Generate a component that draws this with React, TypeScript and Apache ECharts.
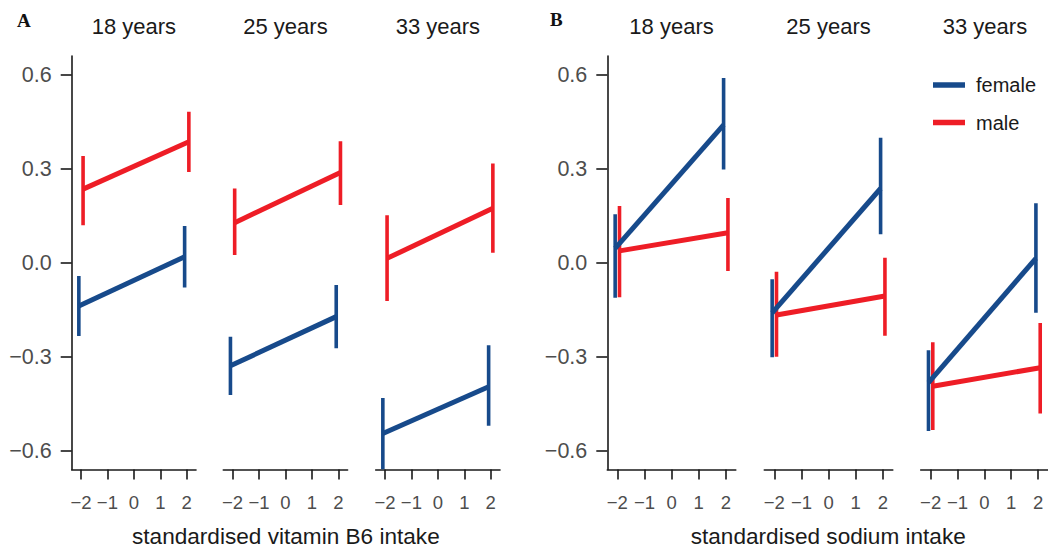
import React, { useEffect, useRef } from "react";
import * as echarts from "echarts";

const ages = ["18 years", "25 years", "33 years"];
const xLevels = [-2, 2];
const xTicks = [-2, -1, 0, 1, 2];
const yTicks = [-0.6, -0.3, 0, 0.3, 0.6];
const sexes = ["female", "male"];
const panelLetters = ["A", "B"];
const xTitles = ["standardised vitamin B6 intake", "standardised sodium intake"];

// Panel A: vitamin B6 — [facet][x level]
const b6FemaleMean = [[-0.138, 0.019], [-0.329, -0.172], [-0.545, -0.396]];
const b6FemaleLow = [[-0.234, -0.079], [-0.422, -0.273], [-0.66, -0.52]];
const b6FemaleHigh = [[-0.042, 0.117], [-0.236, -0.071], [-0.432, -0.263]];
const b6MaleMean = [[0.235, 0.386], [0.128, 0.288], [0.014, 0.174]];
const b6MaleLow = [[0.12, 0.29], [0.025, 0.184], [-0.122, 0.032]];
const b6MaleHigh = [[0.341, 0.482], [0.237, 0.388], [0.152, 0.317]];

// Panel B: sodium
const naFemaleMean = [[0.046, 0.44], [-0.16, 0.237], [-0.383, 0.014]];
const naFemaleLow = [[-0.112, 0.298], [-0.302, 0.091], [-0.537, -0.16]];
const naFemaleHigh = [[0.155, 0.59], [-0.053, 0.399], [-0.279, 0.19]];
const naMaleMean = [[0.038, 0.096], [-0.167, -0.106], [-0.394, -0.335]];
const naMaleLow = [[-0.11, -0.026], [-0.3, -0.233], [-0.534, -0.481]];
const naMaleHigh = [[0.181, 0.207], [-0.029, 0.016], [-0.254, -0.192]];

const panels = [
  { mean: [b6FemaleMean, b6MaleMean], low: [b6FemaleLow, b6MaleLow], high: [b6FemaleHigh, b6MaleHigh] },
  { mean: [naFemaleMean, naMaleMean], low: [naFemaleLow, naMaleLow], high: [naFemaleHigh, naMaleHigh] },
];

const COLORS = ["#174a8b", "#ee1d26"];
const DODGE = [-0.08, 0.08];
const FONT = "Liberation Sans, Arial, Helvetica, sans-serif";
const AXIS_COLOR = "#1a1a1a";
const LABEL_COLOR = "#4d4d4d";

const GRID_TOP = 56;
const GRID_H = 413.5;
const Y_MIN = -0.66;
const Y_MAX = 0.66;
const panelLayout = [
  { lefts: [71.7, 223.3, 375.7], width: 124.3, xr: 2.35 },
  { lefts: [607.3, 764.3, 920.7], width: 128.5, xr: 2.37 },
];

const fmt = (v: number, d: number) => (d > 0 ? v.toFixed(d) : String(v)).replace("-", "\u2212");

export default function App() {
  const ref = useRef<HTMLDivElement>(null);
  useEffect(() => {
    if (!ref.current) return;
    const chart = echarts.init(ref.current, null, { renderer: "svg" });
    const grid: any[] = [];
    const xAxis: any[] = [];
    const yAxis: any[] = [];
    const series: any[] = [];
    const graphic: any[] = [];

    panelLayout.forEach((pl, p) => {
      pl.lefts.forEach((left, f) => {
        const gi = p * 3 + f;
        grid.push({ left, top: GRID_TOP, width: pl.width, height: GRID_H, containLabel: false });
        xAxis.push({
          type: "value",
          gridIndex: gi,
          min: -pl.xr,
          max: pl.xr,
          splitLine: { show: false },
          axisLine: { show: true, onZero: false, lineStyle: { color: AXIS_COLOR, width: 1.6 } },
          axisTick: { show: true, length: 10, customValues: xTicks, lineStyle: { color: AXIS_COLOR, width: 1.6 } },
          axisLabel: {
            show: true,
            customValues: xTicks,
            margin: 23,
            color: LABEL_COLOR,
            fontSize: 18.5,
            fontFamily: FONT,
            formatter: (v: number) => fmt(v, 0),
          },
        });
        const showY = f === 0;
        yAxis.push({
          type: "value",
          gridIndex: gi,
          min: Y_MIN,
          max: Y_MAX,
          show: showY,
          splitLine: { show: false },
          axisLine: { show: showY, onZero: false, lineStyle: { color: AXIS_COLOR, width: 1.6 } },
          axisTick: { show: showY, length: 11, customValues: yTicks, lineStyle: { color: AXIS_COLOR, width: 1.6 } },
          axisLabel: {
            show: showY,
            customValues: yTicks,
            margin: 20,
            color: LABEL_COLOR,
            fontSize: 21.5,
            fontFamily: FONT,
            formatter: (v: number) => fmt(v, 1),
          },
        });

        sexes.forEach((sex, s) => {
          const d = panels[p];
          const barData = xLevels.map((x, k) => [x + DODGE[s], d.low[s][f][k], d.high[s][f][k]]);
          series.push({
            type: "custom",
            name: sex,
            xAxisIndex: gi,
            yAxisIndex: gi,
            clip: true,
            color: COLORS[s],
            data: barData,
            renderItem: (_params: any, api: any) => {
              const x = api.value(0);
              const p1 = api.coord([x, api.value(1)]);
              const p2 = api.coord([x, api.value(2)]);
              return {
                type: "line",
                shape: { x1: p1[0], y1: p1[1], x2: p2[0], y2: p2[1] },
                style: { stroke: COLORS[s], lineWidth: 3.6, lineCap: "butt" },
              };
            },
          });
          series.push({
            type: "line",
            name: sex,
            xAxisIndex: gi,
            yAxisIndex: gi,
            color: COLORS[s],
            showSymbol: false,
            symbol: "none",
            clip: true,
            lineStyle: { color: COLORS[s], width: 5, cap: "butt" },
            data: xLevels.map((x, k) => [x + DODGE[s], d.mean[s][f][k]]),
          });
        });

        graphic.push({
          type: "text",
          x: left + pl.width / 2,
          y: 26.5,
          style: {
            text: ages[f],
            fill: "#1a1a1a",
            font: `22px ${FONT}`,
            textAlign: "center",
            textVerticalAlign: "middle",
          },
        });
      });

      const first = pl.lefts[0];
      const last = pl.lefts[2] + pl.width;
      graphic.push({
        type: "text",
        x: (first + last) / 2,
        y: 536.5,
        style: {
          text: xTitles[p],
          fill: "#1a1a1a",
          font: `22.6px ${FONT}`,
          textAlign: "center",
          textVerticalAlign: "middle",
        },
      });
    });

    graphic.push({
      type: "text",
      x: 17,
      y: 20.5,
      style: { text: panelLetters[0], fill: "#111", font: "bold 19px 'Liberation Serif', 'Times New Roman', serif", textVerticalAlign: "middle" },
    });
    graphic.push({
      type: "text",
      x: 550,
      y: 19.5,
      style: { text: panelLetters[1], fill: "#111", font: "bold 19px 'Liberation Serif', 'Times New Roman', serif", textVerticalAlign: "middle" },
    });

    chart.setOption({
      animation: false,
      backgroundColor: "#ffffff",
      grid,
      xAxis,
      yAxis,
      series,
      graphic,
      legend: {
        data: sexes,
        orient: "vertical",
        left: 928,
        top: 70,
        icon: "rect",
        itemWidth: 32,
        itemHeight: 5.5,
        itemGap: 17.5,
        selectedMode: false,
        textStyle: { fontSize: 20, fontFamily: FONT, color: "#1a1a1a", padding: [0, 0, 0, 6] },
      },
    });
    return () => chart.dispose();
  }, []);
  return <div ref={ref} style={{ position: "absolute", left: 0, top: 0, width: 1048, height: 549 }} />;
}
